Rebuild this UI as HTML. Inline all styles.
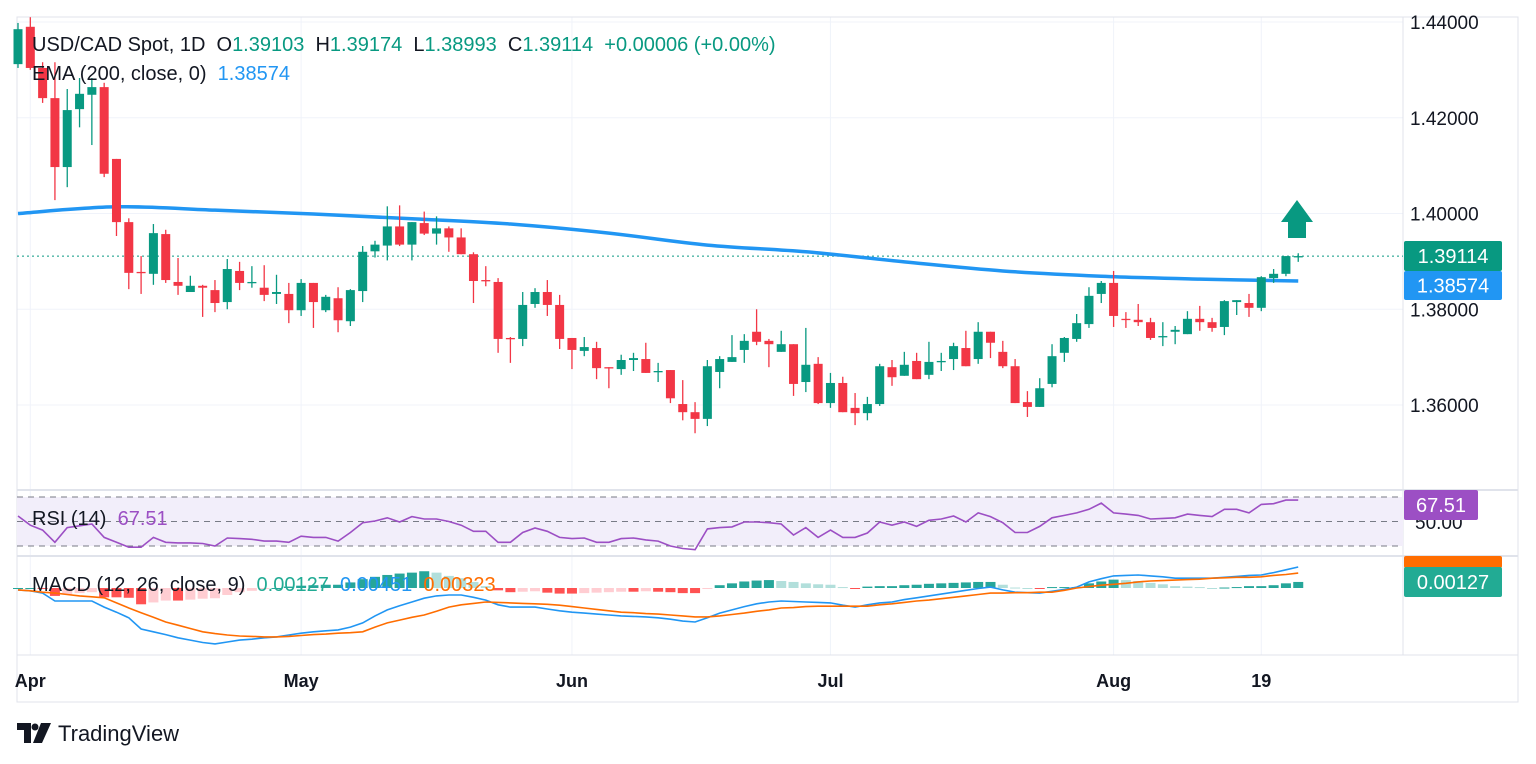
<!DOCTYPE html>
<html><head><meta charset="utf-8">
<style>
html,body{margin:0;padding:0;background:#fff;}
body{width:1536px;height:764px;overflow:hidden;position:relative;font-family:"Liberation Sans",sans-serif;}
svg{position:absolute;left:0;top:0;}
</style></head>
<body>
<svg id="chart" width="1536" height="764"></svg>
<script>
// ---- data (prices) ----
const opens=[1.4312,1.4390,1.4304,1.4241,1.4097,1.4218,1.4248,1.4264,1.4114,1.3982,1.3878,1.3874,1.3957,1.3857,1.3836,1.3849,1.3840,1.3815,1.3880,1.3855,1.3845,1.3832,1.3832,1.3798,1.3855,1.3798,1.3823,1.3775,1.3838,1.3921,1.3933,1.3973,1.3935,1.3980,1.3958,1.3969,1.3950,1.3915,1.3861,1.3857,1.3740,1.3738,1.3811,1.3836,1.3809,1.3740,1.3713,1.3719,1.3679,1.3675,1.3694,1.3696,1.3669,1.3673,1.3602,1.3585,1.3571,1.3669,1.3690,1.3715,1.3753,1.3734,1.3711,1.3727,1.3648,1.3686,1.3604,1.3646,1.3594,1.3583,1.3602,1.3679,1.3661,1.3692,1.3663,1.3690,1.3696,1.3719,1.3696,1.3753,1.3711,1.3681,1.3606,1.3596,1.3644,1.3709,1.3738,1.3769,1.3832,1.3855,1.3780,1.3778,1.3773,1.3742,1.3753,1.3748,1.3780,1.3773,1.3763,1.3815,1.3813,1.3803,1.3865,1.3874,1.3910];
const highs=[1.4398,1.4410,1.4316,1.4316,1.4260,1.4283,1.4283,1.4273,1.4114,1.3990,1.3911,1.3978,1.3966,1.3907,1.3870,1.3851,1.3861,1.3905,1.3899,1.3890,1.3892,1.3872,1.3855,1.3863,1.3855,1.3830,1.3846,1.3842,1.3932,1.3943,1.4015,1.4017,1.3982,1.4004,1.3994,1.3973,1.3969,1.3919,1.3890,1.3865,1.3742,1.3836,1.3844,1.3861,1.3830,1.3740,1.3742,1.3732,1.3679,1.3705,1.3709,1.3730,1.3688,1.3673,1.3652,1.3606,1.3694,1.3702,1.3746,1.3748,1.3800,1.3738,1.3755,1.3727,1.3761,1.3700,1.3667,1.3659,1.3625,1.3617,1.3686,1.3694,1.3711,1.3709,1.3732,1.3709,1.3730,1.3755,1.3773,1.3753,1.3734,1.3696,1.3629,1.3656,1.3727,1.3742,1.3790,1.3846,1.3859,1.3880,1.3794,1.3811,1.3782,1.3773,1.3765,1.3796,1.3807,1.3782,1.3819,1.3819,1.3832,1.3869,1.3884,1.3911,1.3917];
const lows=[1.4304,1.4300,1.4231,1.4028,1.4055,1.4180,1.4143,1.4076,1.3953,1.3842,1.3832,1.3851,1.3855,1.3830,1.3836,1.3784,1.3794,1.3800,1.3840,1.3845,1.3817,1.3811,1.3771,1.3786,1.3761,1.3794,1.3752,1.3765,1.3815,1.3908,1.3902,1.3932,1.3902,1.3955,1.3935,1.3920,1.3915,1.3813,1.3848,1.3709,1.3688,1.3723,1.3803,1.3786,1.3717,1.3675,1.3702,1.3654,1.3635,1.3663,1.3671,1.3667,1.3648,1.3604,1.3568,1.3541,1.3556,1.3635,1.3690,1.3688,1.3725,1.3679,1.3711,1.3619,1.3627,1.3602,1.3594,1.3585,1.3558,1.3568,1.3598,1.3640,1.3661,1.3654,1.3654,1.3671,1.3673,1.3681,1.3686,1.3698,1.3677,1.3604,1.3575,1.3596,1.3637,1.3690,1.3732,1.3761,1.3813,1.3763,1.3761,1.3765,1.3736,1.3723,1.3727,1.3748,1.3755,1.3753,1.3746,1.3788,1.3784,1.3796,1.3855,1.3869,1.3899];
const closes=[1.4385,1.4304,1.4241,1.4097,1.4216,1.4250,1.4264,1.4083,1.3982,1.3876,1.3876,1.3959,1.3861,1.3849,1.3849,1.3845,1.3813,1.3884,1.3855,1.3857,1.3830,1.3836,1.3798,1.3855,1.3815,1.3826,1.3777,1.3840,1.3920,1.3935,1.3973,1.3935,1.3982,1.3958,1.3969,1.3950,1.3915,1.3859,1.3859,1.3738,1.3738,1.3809,1.3836,1.3809,1.3738,1.3715,1.3721,1.3677,1.3677,1.3694,1.3698,1.3667,1.3671,1.3614,1.3585,1.3571,1.3681,1.3696,1.3700,1.3734,1.3732,1.3727,1.3727,1.3644,1.3684,1.3604,1.3646,1.3585,1.3583,1.3602,1.3681,1.3658,1.3684,1.3654,1.3690,1.3692,1.3723,1.3681,1.3753,1.3730,1.3681,1.3604,1.3596,1.3635,1.3702,1.3740,1.3771,1.3828,1.3855,1.3786,1.3778,1.3773,1.3740,1.3744,1.3757,1.3780,1.3773,1.3761,1.3817,1.3819,1.3803,1.3867,1.3874,1.3911,1.3911];
const emaIdx=[0,8,16,24,32,40,48,56,64,72,80,88,96,104];
const emaVals=[1.4000,1.4014,1.4007,1.3999,1.3989,1.3978,1.3959,1.3934,1.3920,1.3899,1.3880,1.3869,1.3863,1.3859];
const rsiVals=[54.5,47,43,33,45,46.5,48,37,33,29,29,37,33,32.5,32.5,32,30,36.5,36,35.5,34,34,33,38,37,37,34,41,49,50.4,53,49.6,54,52,52,50,47,42,42,33,33,41,44.7,42,37,36,36.5,33,33,36,36.5,35,34,30,28,27,44,45,45.6,49.6,49.6,49,48,39,45,37,43,37,37,40.6,49.6,47,49.6,46,51,52,54.5,49.6,57,54,49,41,41,46,53,55,57,60,65,57,56,55,52,52.5,53,56,55,54,60,60,57,64,64.5,67.5,67.5];
const macdVals=[-4,-6,-11,-28,-28,-28,-28,-41,-52,-64,-88,-94,-100,-107,-112,-117,-120,-116,-112,-110,-107,-105,-101,-97,-94,-92,-90,-84,-75,-60,-47,-38,-30,-22,-17,-15,-15,-20,-26,-36,-41,-41,-41,-45,-49,-52,-54,-56,-58,-60,-61,-62,-64,-67,-71,-73,-64,-54,-47,-40,-34,-30,-28,-29,-30,-31,-32,-37,-41,-36,-32,-30,-25,-21,-17,-13,-9,-5,-1,2,-4,-9,-10,-11,-7,-3,2,13,20,26,27,28,26,24,21,21,21,21,23,25,27,28,33,39,45];
const signalVals=[-4,-6,-9,-11,-14,-17,-19,-21,-32,-43,-53,-63,-73,-80,-87,-94,-98,-101,-103,-104,-105,-105,-104,-102,-100,-99,-97,-96,-94,-84,-75,-69,-63,-58,-50,-41,-36,-33,-30,-31,-32,-33,-34,-35,-37,-40,-43,-46,-49,-52,-53,-55,-56,-58,-60,-62,-62,-60,-57,-54,-50,-47,-43,-42,-40,-39,-39,-39,-39,-39,-36,-34,-31,-28,-26,-23,-20,-17,-14,-11,-11,-10,-10,-9,-9,-5,0,3,6,8,10,13,15,16,17,18,19,21,22,23,23,24,27,29,32];
const priceTicks=[1.44,1.42,1.40,1.38,1.36];
const monthLabels=["Apr","May","Jun","Jul","Aug","19"];
const monthIdx=[1,23,45,66,89,101];

// ---- scales ----
const svg=document.getElementById('chart');
const NS='http://www.w3.org/2000/svg';
const PL=17,PR=1403;
const xOf=i=>18+i*12.31;
const yP=p=>22+(1.44-p)*4787.5;
const yR=v=>521.5-(v-50)*1.225;
const yM=v=>588-v*0.4656; // v in 1e-4 units
function el(tag,attrs,parent){const e=document.createElementNS(NS,tag);for(const k in attrs)e.setAttribute(k,attrs[k]);(parent||svg).appendChild(e);return e;}
function txt(s,attrs,parent){const e=el('text',attrs,parent);e.textContent=s;return e;}

// frame & grids
const grid=el('g',{});


priceTicks.forEach(p=>el('line',{x1:PL,x2:PR,y1:yP(p),y2:yP(p),stroke:'#f0f3fa','stroke-width':1},grid));
monthIdx.forEach(i=>el('line',{x1:xOf(i),x2:xOf(i),y1:17,y2:655,stroke:'#f0f3fa','stroke-width':1},grid));
el('rect',{x:PL,y:17,width:1501,height:685,fill:'none',stroke:'#e0e3eb','stroke-width':1});
el('line',{x1:PR,x2:PR,y1:17,y2:655,stroke:'#e0e3eb'});
el('line',{x1:PL,x2:1518,y1:490,y2:490,stroke:'#e0e3eb','stroke-width':2});
el('line',{x1:PL,x2:1518,y1:556,y2:556,stroke:'#e0e3eb','stroke-width':2});
el('line',{x1:PL,x2:1518,y1:655,y2:655,stroke:'#e0e3eb'});

// RSI band
const rsiG=el('g',{});


el('rect',{x:PL,y:yR(70),width:PR-PL,height:yR(30)-yR(70),fill:'#f2eefa'},rsiG);
[70,50,30].forEach(v=>el('line',{x1:PL,x2:PR,y1:yR(v),y2:yR(v),stroke:'#787b86','stroke-width':1,'stroke-dasharray':'6 5'},rsiG));
let rp='';rsiVals.forEach((v,i)=>rp+=(i?'L':'M')+xOf(i).toFixed(1)+','+yR(v).toFixed(1));
const rl=el('path',{d:rp,fill:'none',stroke:'#9c4fc4','stroke-width':1.6},rsiG);



// MACD
const macdG=el('g',{});


let prevH=0;
macdVals.forEach((m,i)=>{const h=m-signalVals[i];let c;
 if(h>=0)c=h>=prevH?'#26a69a':'#b2dfdb';else c=h<=prevH?'#ff5252':'#ffcdd2';
 const y0=yM(0),y1=yM(h);
 const b=el('rect',{x:xOf(i)-5,y:Math.min(y0,y1),width:10,height:Math.max(1,Math.abs(y1-y0)),fill:c},macdG);
 
 
 prevH=h;});
let mp='',sp='';
macdVals.forEach((v,i)=>mp+=(i?'L':'M')+xOf(i).toFixed(1)+','+yM(v).toFixed(1));
signalVals.forEach((v,i)=>sp+=(i?'L':'M')+xOf(i).toFixed(1)+','+yM(v).toFixed(1));
const ml=el('path',{d:mp,fill:'none',stroke:'#2196f3','stroke-width':1.6},macdG);


const sl=el('path',{d:sp,fill:'none',stroke:'#ff6d00','stroke-width':1.6},macdG);



// price line
const pl=el('line',{x1:PL,x2:PR,y1:yP(closes[closes.length-1]),y2:yP(closes[closes.length-1]),stroke:'#089981','stroke-width':1,'stroke-dasharray':'2 3'});



// EMA (Catmull-Rom smoothing)
const eP=emaIdx.map((ix,k)=>[xOf(ix),yP(emaVals[k])]);
let ep='M'+eP[0][0]+','+eP[0][1];
for(let k=0;k<eP.length-1;k++){const p0=eP[Math.max(0,k-1)],p1=eP[k],p2=eP[k+1],p3=eP[Math.min(eP.length-1,k+2)];
 const c1x=p1[0]+(p2[0]-p0[0])/6,c1y=p1[1]+(p2[1]-p0[1])/6,c2x=p2[0]-(p3[0]-p1[0])/6,c2y=p2[1]-(p3[1]-p1[1])/6;
 ep+='C'+c1x+','+c1y+' '+c2x+','+c2y+' '+p2[0]+','+p2[1];}
const emaL=el('path',{d:ep,fill:'none',stroke:'#2196f3','stroke-width':3.5});



// candles
const cg=el('g',{});


opens.forEach((o,i)=>{const c=closes[i],up=c>=o,col=up?'#089981':'#f23645',x=xOf(i);
 const g=el('g',{},cg);
 
 
 el('line',{x1:x,x2:x,y1:yP(highs[i]),y2:yP(lows[i]),stroke:col,'stroke-width':1.3},g);
 const yt=yP(Math.max(o,c)),yb=yP(Math.min(o,c));
 el('rect',{x:x-4.5,y:yt,width:9,height:Math.max(1.3,yb-yt),fill:col},g);});

// arrow
const ar=el('path',{d:'M1297,200 L1313,222 L1306,222 L1306,238 L1288,238 L1288,222 L1281,222 Z',fill:'#089981'});



// axis labels
priceTicks.forEach(p=>{const t=txt(p.toFixed(5),{x:1410,y:yP(p)+7,'font-size':19,fill:'#131722'});
 
 });
monthLabels.forEach((m,k)=>{const t=txt(m,{x:xOf(monthIdx[k]),y:687,'font-size':18,'font-weight':'bold',fill:'#131722','text-anchor':'middle'});
 
 });
txt('50.00',{x:1415,y:529,'font-size':19,fill:'#131722'});
function badge(x,y,w,h,fill,label,name){const g=el('g',{});
 
 
 el('rect',{x:x,y:y,width:w,height:h,rx:2,fill:fill},g);
 txt(label,{x:x+w/2,y:y+h/2+7,'font-size':20,fill:'#fff','text-anchor':'middle'},g);}
badge(1404,241,98,30,'#089981','1.39114','last-price-badge');
badge(1404,271,98,29,'#2196f3','1.38574','ema-badge');
badge(1404,490,74,30,'#9c4fc4','67.51','rsi-badge');
badge(1404,556,98,12,'#ff6d00','','signal-badge');
badge(1404,567,98,30,'#22ab94','0.00127','macd-hist-badge');

// legends
const lg=txt('',{x:32,y:51,'font-size':20,fill:'#131722'});


lg.innerHTML='USD/CAD Spot, 1D  O<tspan fill="#089981">1.39103</tspan>  H<tspan fill="#089981">1.39174</tspan>  L<tspan fill="#089981">1.38993</tspan>  C<tspan fill="#089981">1.39114</tspan>  <tspan fill="#089981">+0.00006 (+0.00%)</tspan>';
lg.style.whiteSpace='pre';
const el2=txt('',{x:32,y:80,'font-size':20,fill:'#131722'});


el2.innerHTML='EMA (200, close, 0)  <tspan fill="#2196f3">1.38574</tspan>';el2.style.whiteSpace='pre';
const rg=txt('',{x:32,y:525,'font-size':20,fill:'#131722'});


rg.innerHTML='RSI (14)  <tspan fill="#9c4fc4">67.51</tspan>';rg.style.whiteSpace='pre';
const mg=txt('',{x:32,y:591,'font-size':20,fill:'#131722'});


mg.innerHTML='MACD (12, 26, close, 9)  <tspan fill="#22ab94">0.00127</tspan>  <tspan fill="#2196f3">0.00451</tspan>  <tspan fill="#ff6d00">0.00323</tspan>';mg.style.whiteSpace='pre';

// logo
const logo=el('g',{});


el('path',{d:'M17,723 H31 V743 H24 V730 H17 Z',fill:'#131722'},logo);
el('circle',{cx:35,cy:727,r:3.5,fill:'#131722'},logo);
el('path',{d:'M41,723 H51 L42,743 H33 Z',fill:'#131722'},logo);
txt('TradingView',{x:58,y:741,'font-size':22,fill:'#131722'},logo);
</script>
</body></html>
